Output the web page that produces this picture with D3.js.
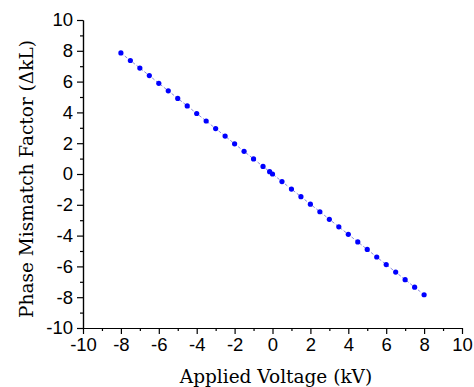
<!DOCTYPE html>
<html>
<head>
<meta charset="utf-8">
<script src="https://cdn.jsdelivr.net/npm/d3@7"></script>
<style>
  body { margin: 0; background: #fff; }
  .tick text { font-family: "Liberation Sans", Arial, sans-serif; font-size: 18.5px; fill: #000; }
  .axis path, .axis line { stroke: #000; stroke-width: 1.2; }
  .title { font-family: "DejaVu Serif", "Liberation Serif", serif; font-size: 18.5px; fill: #000; }
</style>
</head>
<body>
<svg id="chart" width="474" height="387"></svg>
<script>
// applied voltage (kV)
var voltage = [-8, -7.5, -7, -6.5, -6, -5.5, -5, -4.5, -4, -3.5, -3, -2.5, -2, -1.5, -1, -0.5,
               -0.15, 0,
               0.5, 1, 1.5, 2, 2.5, 3, 3.5, 4, 4.5, 5, 5.5, 6, 6.5, 7, 7.5, 8];
// phase mismatch factor (dkL)
var mismatch = [7.86, 7.37, 6.88, 6.39, 5.89, 5.40, 4.91, 4.42, 3.93, 3.44, 2.95, 2.46, 1.96, 1.47, 0.98, 0.49,
                0.15, 0.00,
                -0.49, -0.98, -1.47, -1.96, -2.45, -2.94, -3.43, -3.92, -4.41, -4.90, -5.39, -5.88, -6.37, -6.86, -7.35, -7.84];

var majorTicks = [-10, -8, -6, -4, -2, 0, 2, 4, 6, 8, 10];
var minorTicks = [-9, -7, -5, -3, -1, 1, 3, 5, 7, 9];

var xTitle = "Applied Voltage (kV)",
    yTitle = "Phase Mismatch Factor (\u0394kL)";

var svg = d3.select("#chart");
var mLeft = 83, mRight = 462, mTop = 20, mBottom = 328;

var x = d3.scaleLinear().domain([-10, 10]).range([mLeft, mRight]);
var y = d3.scaleLinear().domain([-10, 10]).range([mBottom, mTop]);

var pts = voltage.map(function(v, i){ return {v: v, m: mismatch[i]}; });

// plain hyphen for negatives, like the original
var fmt = function(d){ return String(d); };

// minor ticks first, then the major axis on top
svg.append("g").attr("class", "axis")
    .attr("transform", "translate(0," + mBottom + ")")
    .call(d3.axisBottom(x).tickValues(minorTicks).tickSize(3).tickSizeOuter(0).tickFormat(""));
svg.append("g").attr("class", "axis")
    .attr("transform", "translate(" + mLeft + ",0)")
    .call(d3.axisLeft(y).tickValues(minorTicks).tickSize(3).tickSizeOuter(0).tickFormat(""));

svg.append("g").attr("class", "axis")
    .attr("transform", "translate(0," + mBottom + ")")
    .call(d3.axisBottom(x).tickValues(majorTicks).tickSize(6).tickSizeOuter(0).tickPadding(4).tickFormat(fmt));
svg.append("g").attr("class", "axis")
    .attr("transform", "translate(" + mLeft + ",0)")
    .call(d3.axisLeft(y).tickValues(majorTicks).tickSize(6).tickSizeOuter(0).tickPadding(4).tickFormat(fmt));

// connecting line
svg.append("path")
    .datum(pts)
    .attr("fill", "none")
    .attr("stroke", "#8c8cdc")
    .attr("stroke-width", 1)
    .attr("stroke-dasharray", "3,2")
    .attr("d", d3.line().x(function(d){ return x(d.v); }).y(function(d){ return y(d.m); }));

svg.selectAll("circle.pt")
    .data(pts).enter()
    .append("circle")
    .attr("class", "pt")
    .attr("cx", function(d){ return x(d.v); })
    .attr("cy", function(d){ return y(d.m); })
    .attr("r", 2.6)
    .attr("fill", "#0000ff");

svg.append("text")
    .attr("class", "title")
    .attr("x", 276)
    .attr("y", 383)
    .attr("text-anchor", "middle")
    .text(xTitle);

svg.append("text")
    .attr("class", "title")
    .attr("transform", "translate(33,179) rotate(-90)")
    .attr("text-anchor", "middle")
    .text(yTitle);
</script>
</body>
</html>
